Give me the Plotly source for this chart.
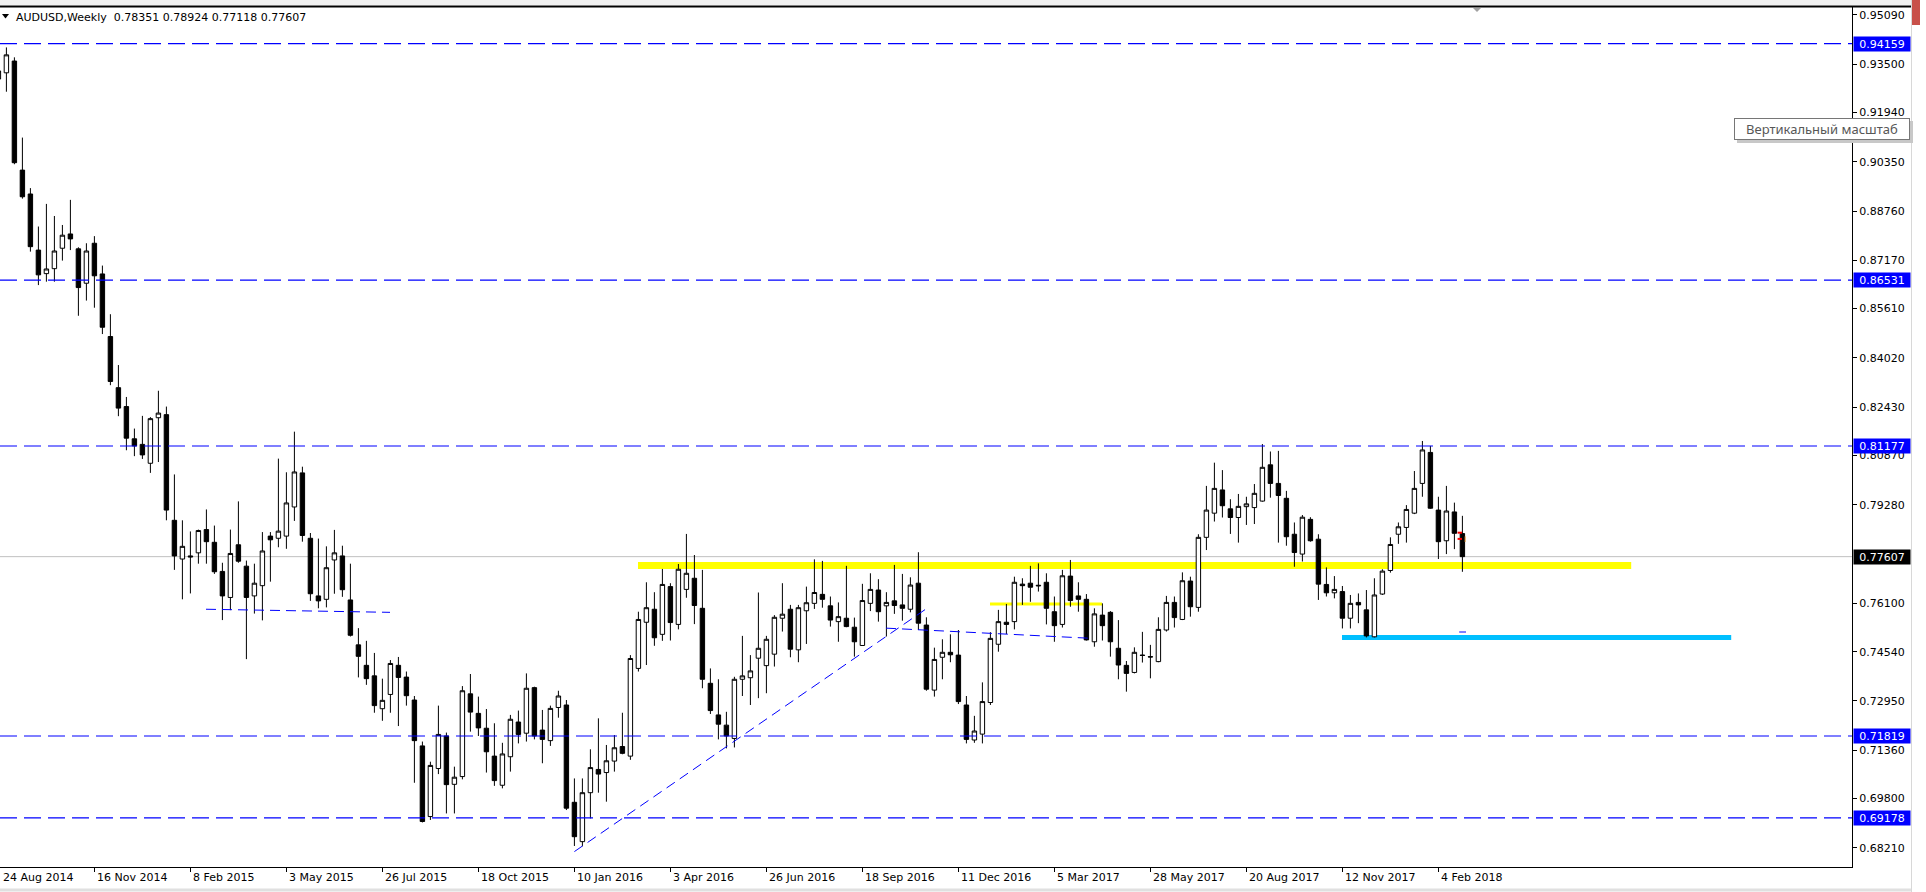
import plotly.graph_objects as go

# ---------------- data (AUDUSD weekly, bar 0 = week of 24 Aug 2014) ----------------
bar_index = list(range(184))

opens = [
    0.9302, 0.9322, 0.9360, 0.9008, 0.8931, 0.8750, 0.8674, 0.8690, 0.8756, 0.8802,
    0.8754, 0.8643, 0.8772, 0.8673, 0.8471, 0.8306, 0.8245, 0.8141, 0.8123, 0.8062,
    0.8209, 0.8219, 0.7878, 0.7753, 0.7763, 0.7773, 0.7848, 0.7807, 0.7713, 0.7629,
    0.7799, 0.7730, 0.7634, 0.7667, 0.7827, 0.7820, 0.7827, 0.7921, 0.8031, 0.7820,
    0.7634, 0.7623, 0.7750, 0.7763, 0.7621, 0.7476, 0.7410, 0.7376, 0.7270, 0.7316,
    0.7410, 0.7372, 0.7298, 0.7150, 0.6922, 0.7077, 0.7182, 0.7026, 0.7051, 0.7318,
    0.7255, 0.7207, 0.7117, 0.7023, 0.7115, 0.7227, 0.7191, 0.7338, 0.7201, 0.7167,
    0.7274, 0.7282, 0.6968, 0.6841, 0.6999, 0.7074, 0.7064, 0.7101, 0.7148, 0.7117,
    0.7400, 0.7549, 0.7591, 0.7510, 0.7664, 0.7542, 0.7655, 0.7691, 0.7594, 0.7352,
    0.7250, 0.7217, 0.7174, 0.7365, 0.7370, 0.7433, 0.7409, 0.7446, 0.7562, 0.7591,
    0.7460, 0.7586, 0.7610, 0.7639, 0.7602, 0.7551, 0.7562, 0.7533, 0.7474, 0.7610,
    0.7653, 0.7602, 0.7618, 0.7605, 0.7591, 0.7675, 0.7540, 0.7330, 0.7436, 0.7452,
    0.7443, 0.7282, 0.7169, 0.7188, 0.7290, 0.7478, 0.7549, 0.7551, 0.7672, 0.7675,
    0.7666, 0.7678, 0.7583, 0.7542, 0.7698, 0.7634, 0.7623, 0.7486, 0.7572, 0.7581,
    0.7465, 0.7410, 0.7387, 0.7443, 0.7438, 0.7422, 0.7524, 0.7613, 0.7558, 0.7682,
    0.7597, 0.7823, 0.7901, 0.7976, 0.7915, 0.7887, 0.7922, 0.7919, 0.7940, 0.8057,
    0.7997, 0.7949, 0.7833, 0.7769, 0.7881, 0.7817, 0.7671, 0.7644, 0.7648, 0.7562,
    0.7613, 0.7589, 0.7502, 0.7640, 0.7716, 0.7833, 0.7855, 0.7901, 0.7997, 0.8097,
    0.7911, 0.7812, 0.7905, 0.78351,
]
highs = [
    0.9338, 0.9404, 0.9372, 0.9113, 0.8950, 0.8826, 0.8899, 0.8860, 0.8831, 0.8912,
    0.8759, 0.8772, 0.8795, 0.8700, 0.8543, 0.8379, 0.8276, 0.8174, 0.8215, 0.8211,
    0.8296, 0.8245, 0.8026, 0.7878, 0.7842, 0.7848, 0.7913, 0.7861, 0.7741, 0.7848,
    0.7939, 0.7748, 0.7738, 0.7840, 0.7840, 0.8077, 0.8033, 0.8164, 0.8051, 0.7837,
    0.7819, 0.7794, 0.7847, 0.7796, 0.7738, 0.7530, 0.7489, 0.7450, 0.7367, 0.7427,
    0.7437, 0.7390, 0.7311, 0.7164, 0.7099, 0.7280, 0.7193, 0.7083, 0.7343, 0.7382,
    0.7309, 0.7269, 0.7223, 0.7160, 0.7250, 0.7264, 0.7384, 0.7341, 0.7266, 0.7280,
    0.7328, 0.7298, 0.7045, 0.7045, 0.7139, 0.7239, 0.7153, 0.7185, 0.7257, 0.7443,
    0.7583, 0.7678, 0.7646, 0.7721, 0.7675, 0.7737, 0.7834, 0.7766, 0.7718, 0.7400,
    0.7365, 0.7260, 0.7373, 0.7505, 0.7443, 0.7645, 0.7505, 0.7572, 0.7675, 0.7605,
    0.7605, 0.7664, 0.7752, 0.7747, 0.7632, 0.7613, 0.7731, 0.7564, 0.7673, 0.7707,
    0.7688, 0.7646, 0.7734, 0.7705, 0.7694, 0.7775, 0.7565, 0.7467, 0.7494, 0.7510,
    0.7524, 0.7311, 0.7247, 0.7355, 0.7517, 0.7589, 0.7608, 0.7696, 0.7691, 0.7731,
    0.7739, 0.7707, 0.7632, 0.7718, 0.7750, 0.7678, 0.7640, 0.7594, 0.7610, 0.7585,
    0.7556, 0.7424, 0.7468, 0.7518, 0.7476, 0.7565, 0.7634, 0.7632, 0.7710, 0.7696,
    0.7833, 0.7989, 0.8064, 0.8040, 0.7946, 0.7963, 0.7954, 0.7995, 0.8124, 0.8100,
    0.8102, 0.7973, 0.7871, 0.7895, 0.7888, 0.7833, 0.7726, 0.7698, 0.7666, 0.7637,
    0.7642, 0.7653, 0.7691, 0.7720, 0.7823, 0.7871, 0.7927, 0.8037, 0.8134, 0.8118,
    0.7954, 0.7989, 0.7935, 0.78924,
]
lows = [
    0.9290, 0.9261, 0.9027, 0.8916, 0.8745, 0.8637, 0.8648, 0.8648, 0.8716, 0.8750,
    0.8538, 0.8587, 0.8564, 0.8479, 0.8314, 0.8214, 0.8104, 0.8085, 0.8076, 0.8031,
    0.8066, 0.7878, 0.7718, 0.7623, 0.7642, 0.7738, 0.7738, 0.7705, 0.7556, 0.7588,
    0.7741, 0.7430, 0.7577, 0.7555, 0.7680, 0.7791, 0.7786, 0.7876, 0.7809, 0.7618,
    0.7594, 0.7597, 0.7641, 0.7631, 0.7503, 0.7371, 0.7347, 0.7257, 0.7231, 0.7257,
    0.7214, 0.7280, 0.7031, 0.6903, 0.6911, 0.7059, 0.6932, 0.6932, 0.7042, 0.7196,
    0.7182, 0.7064, 0.7021, 0.7013, 0.7067, 0.7158, 0.7164, 0.7171, 0.7094, 0.7150,
    0.7241, 0.6943, 0.6827, 0.6826, 0.6916, 0.6999, 0.6970, 0.7067, 0.7123, 0.7105,
    0.7390, 0.7411, 0.7473, 0.7489, 0.7490, 0.7526, 0.7628, 0.7543, 0.7336, 0.7253,
    0.7171, 0.7142, 0.7145, 0.7311, 0.7282, 0.7304, 0.7320, 0.7406, 0.7519, 0.7436,
    0.7420, 0.7479, 0.7592, 0.7596, 0.7535, 0.7486, 0.7533, 0.7438, 0.7474, 0.7585,
    0.7551, 0.7503, 0.7576, 0.7554, 0.7581, 0.7524, 0.7328, 0.7309, 0.7365, 0.7420,
    0.7285, 0.7158, 0.7160, 0.7158, 0.7282, 0.7454, 0.7511, 0.7526, 0.7605, 0.7615,
    0.7648, 0.7542, 0.7486, 0.7532, 0.7599, 0.7583, 0.7490, 0.7470, 0.7490, 0.7438,
    0.7365, 0.7325, 0.7384, 0.7419, 0.7368, 0.7420, 0.7519, 0.7532, 0.7556, 0.7567,
    0.7583, 0.7782, 0.7874, 0.7887, 0.7834, 0.7806, 0.7863, 0.7866, 0.7938, 0.7951,
    0.7806, 0.7796, 0.7728, 0.7745, 0.7809, 0.7621, 0.7632, 0.7626, 0.7529, 0.7529,
    0.7546, 0.7500, 0.7500, 0.7637, 0.7709, 0.7802, 0.7806, 0.7898, 0.7954, 0.7915,
    0.7753, 0.7769, 0.7785, 0.77118,
]
closes = [
    0.9328, 0.9380, 0.9032, 0.8922, 0.8761, 0.8670, 0.8689, 0.8747, 0.8798, 0.8786,
    0.8629, 0.8747, 0.8667, 0.8501, 0.8326, 0.8240, 0.8143, 0.8118, 0.8089, 0.8206,
    0.8224, 0.7911, 0.7763, 0.7794, 0.7760, 0.7845, 0.7809, 0.7712, 0.7634, 0.7771,
    0.7746, 0.7629, 0.7675, 0.7779, 0.7815, 0.7843, 0.7934, 0.8034, 0.7829, 0.7641,
    0.7618, 0.7725, 0.7773, 0.7654, 0.7507, 0.7439, 0.7367, 0.7280, 0.7297, 0.7416,
    0.7371, 0.7312, 0.7167, 0.6906, 0.7087, 0.7187, 0.7025, 0.7049, 0.7328, 0.7259,
    0.7208, 0.7131, 0.7038, 0.7124, 0.7236, 0.7187, 0.7336, 0.7182, 0.7171, 0.7271,
    0.7311, 0.6949, 0.6857, 0.6999, 0.7080, 0.7059, 0.7102, 0.7144, 0.7126, 0.7432,
    0.7558, 0.7596, 0.7499, 0.7671, 0.7548, 0.7720, 0.7707, 0.7603, 0.7365, 0.7264,
    0.7220, 0.7182, 0.7365, 0.7376, 0.7392, 0.7465, 0.7494, 0.7565, 0.7575, 0.7462,
    0.7596, 0.7612, 0.7645, 0.7623, 0.7556, 0.7567, 0.7535, 0.7486, 0.7619, 0.7655,
    0.7583, 0.7613, 0.7603, 0.7594, 0.7669, 0.7546, 0.7333, 0.7429, 0.7452, 0.7444,
    0.7293, 0.7171, 0.7198, 0.7293, 0.7497, 0.7551, 0.7542, 0.7678, 0.7667, 0.7662,
    0.7668, 0.7594, 0.7538, 0.7699, 0.7619, 0.7623, 0.7492, 0.7576, 0.7538, 0.7486,
    0.7411, 0.7384, 0.7452, 0.7442, 0.7437, 0.7526, 0.7613, 0.7564, 0.7683, 0.7599,
    0.7823, 0.7911, 0.7981, 0.7925, 0.7887, 0.7923, 0.7931, 0.7965, 0.8049, 0.7997,
    0.7958, 0.7825, 0.7774, 0.7888, 0.7812, 0.7672, 0.7644, 0.7655, 0.7562, 0.7610,
    0.7605, 0.7505, 0.7637, 0.7714, 0.7800, 0.7857, 0.7913, 0.7981, 0.8105, 0.7917,
    0.7809, 0.7908, 0.7836, 0.77607,
]

date_tick_bars = [0, 12, 24, 36, 48, 60, 72, 84, 96, 108, 120, 132, 144, 156, 168, 180]
date_tick_labels = ["24 Aug 2014", "16 Nov 2014", "8 Feb 2015", "3 May 2015", "26 Jul 2015",
                    "18 Oct 2015", "10 Jan 2016", "3 Apr 2016", "26 Jun 2016", "18 Sep 2016",
                    "11 Dec 2016", "5 Mar 2017", "28 May 2017", "20 Aug 2017", "12 Nov 2017",
                    "4 Feb 2018"]

price_ticks = [0.95090, 0.93500, 0.91940, 0.90350, 0.88760, 0.87170, 0.85610, 0.84020,
               0.82430, 0.80870, 0.79280, 0.76100, 0.74540, 0.72950, 0.71360, 0.69800, 0.68210]
price_tick_labels = ["0.95090", "0.93500", "0.91940", "0.90350", "0.88760", "0.87170", "0.85610",
                     "0.84020", "0.82430", "0.80870", "0.79280", "0.76100", "0.74540", "0.72950",
                     "0.71360", "0.69800", "0.68210"]

level_prices = [0.94159, 0.86531, 0.81177, 0.71819, 0.69178]
level_labels = ["0.94159", "0.86531", "0.81177", "0.71819", "0.69178"]
bid_price = 0.77607
bid_label = "0.77607"

# drawn objects (bar index / price)
yellow_band = dict(b0=79.95, b1=204.1, price=0.7732)
yellow_short = dict(b0=123.95, b1=137.95, price=0.7608)
cyan_band = dict(b0=167.95, b1=216.6, price=0.7500)
trend_line = dict(b0=72.0, p0=0.6809, b1=115.9, p1=0.7591)
dash_seg_a = dict(b0=25.95, p0=0.7591, b1=48.95, p1=0.7581)
dash_seg_b = dict(b0=110.95, p0=0.7530, b1=136.7, p1=0.7497)

title_text = "AUDUSD,Weekly  0.78351 0.78924 0.77118 0.77607"
tooltip_text = "Вертикальный масштаб"

# ---------------- layout geometry ----------------
W, H = 1926, 892
PLOT_W = 1852
PLOT_TOP, PLOT_BOTTOM = 7, 867
X_RANGE = [0.2, 231.7]
Y_RANGE = [0.67592, 0.95344]


def pxx(x):
    return x / PLOT_W


def pxy(y):
    return (PLOT_BOTTOM - y) / (PLOT_BOTTOM - PLOT_TOP)


FONT = "DejaVu Sans"
BLUE = "#0000FF"

fig = go.Figure()
fig.add_trace(go.Candlestick(
    x=bar_index, open=opens, high=highs, low=lows, close=closes,
    increasing=dict(line=dict(color="black", width=1), fillcolor="white"),
    decreasing=dict(line=dict(color="black", width=1), fillcolor="black"),
    whiskerwidth=0, showlegend=False, hoverinfo="skip",
))

shapes = []
# bid line
shapes.append(dict(type="line", xref="paper", yref="y", x0=0, x1=1, y0=bid_price, y1=bid_price,
                   line=dict(color="#C0C0C0", width=1), layer="below"))
# yellow / cyan bands
shapes.append(dict(type="line", xref="x", yref="y", x0=yellow_band["b0"], x1=yellow_band["b1"],
                   y0=yellow_band["price"], y1=yellow_band["price"],
                   line=dict(color="#FFFF00", width=7), layer="below"))
shapes.append(dict(type="line", xref="x", yref="y", x0=yellow_short["b0"], x1=yellow_short["b1"],
                   y0=yellow_short["price"], y1=yellow_short["price"],
                   line=dict(color="#FFFF00", width=3), layer="below"))
shapes.append(dict(type="line", xref="x", yref="y", x0=cyan_band["b0"], x1=cyan_band["b1"],
                   y0=cyan_band["price"], y1=cyan_band["price"],
                   line=dict(color="#00BFFF", width=5), layer="below"))
# horizontal levels
for lv in level_prices:
    shapes.append(dict(type="line", xref="paper", yref="y", x0=0, x1=1, y0=lv, y1=lv,
                       line=dict(color=BLUE, width=1.2, dash="17px,7px"), layer="above"))
# trend line and short dashed segments
for seg in (trend_line, dash_seg_a, dash_seg_b):
    shapes.append(dict(type="line", xref="x", yref="y", x0=seg["b0"], x1=seg["b1"],
                       y0=seg["p0"], y1=seg["p1"],
                       line=dict(color=BLUE, width=1, dash="10px,6px"), layer="above"))
# tiny marks near last bar
shapes.append(dict(type="line", xref="x", yref="y", x0=182.6, x1=183.45, y0=0.75175, y1=0.75175,
                   line=dict(color=BLUE, width=1)))
shapes.append(dict(type="line", xref="x", yref="y", x0=182.4, x1=182.95, y0=0.7838, y1=0.7838,
                   line=dict(color="#FF0000", width=2)))
shapes.append(dict(type="line", xref="x", yref="y", x0=182.4, x1=182.95, y0=0.7818, y1=0.7818,
                   line=dict(color="#FF0000", width=2)))
shapes.append(dict(type="line", xref="x", yref="y", x0=183.35, x1=183.35, y0=0.7808, y1=0.7826,
                   line=dict(color="#E8A040", width=1)))

# window chrome
shapes.append(dict(type="rect", xref="paper", yref="paper", x0=0, x1=pxx(1911), y0=pxy(5), y1=pxy(0),
                   fillcolor="#F0F0F0", line=dict(width=0)))
shapes.append(dict(type="line", xref="paper", yref="paper", x0=0, x1=pxx(1911), y0=pxy(6.5), y1=pxy(6.5),
                   line=dict(color="black", width=2)))
shapes.append(dict(type="line", xref="paper", yref="paper", x0=pxx(1911.5), x1=pxx(1911.5),
                   y0=pxy(892), y1=pxy(0), line=dict(color="#D8D8D8", width=1)))
shapes.append(dict(type="line", xref="paper", yref="paper", x0=0, x1=pxx(1911), y0=pxy(890), y1=pxy(890),
                   line=dict(color="#E0E0E0", width=3)))
shapes.append(dict(type="rect", xref="paper", yref="paper", x0=pxx(1912), x1=pxx(1920), y0=pxy(25), y1=pxy(0),
                   fillcolor="#C8504A", line=dict(width=0)))
# title triangle
shapes.append(dict(type="path", xref="paper", yref="paper",
                   path=f"M {pxx(2)} {pxy(14)} L {pxx(9)} {pxy(14)} L {pxx(5.5)} {pxy(18.5)} Z",
                   fillcolor="black", line=dict(width=0)))
# chart-shift marker at top
shapes.append(dict(type="path", xref="paper", yref="paper",
                   path=f"M {pxx(1473)} {pxy(8)} L {pxx(1481)} {pxy(8)} L {pxx(1477)} {pxy(12)} Z",
                   fillcolor="#A0A0A0", line=dict(width=0)))
# tooltip shadow
shapes.append(dict(type="rect", xref="paper", yref="paper", x0=pxx(1737), x1=pxx(1913),
                   y0=pxy(143), y1=pxy(121), fillcolor="#C8C8C8", line=dict(width=0)))

annotations = []
annotations.append(dict(xref="paper", x=0, xanchor="left", xshift=14, yref="paper", y=1,
                        yanchor="middle", yshift=-10, text=title_text, showarrow=False,
                        font=dict(family=FONT, size=11, color="black")))
for b, lab in zip(date_tick_bars, date_tick_labels):
    annotations.append(dict(xref="x", x=max(b, X_RANGE[0]), xanchor="left", xshift=1,
                            yref="paper", y=0, yanchor="top", yshift=-2, text=lab,
                            showarrow=False, font=dict(family=FONT, size=11, color="black")))
for lv, lab in zip(level_prices, level_labels):
    annotations.append(dict(xref="paper", x=1, xanchor="left", xshift=1, yref="y", y=lv,
                            yanchor="middle", text=lab, showarrow=False, bgcolor=BLUE,
                            font=dict(family=FONT, size=11, color="white"),
                            width=54, height=12, borderpad=1, align="center"))
annotations.append(dict(xref="paper", x=1, xanchor="left", xshift=1, yref="y", y=bid_price,
                        yanchor="middle", text=bid_label, showarrow=False, bgcolor="black",
                        font=dict(family=FONT, size=11, color="white"),
                        width=54, height=12, borderpad=1, align="center"))
annotations.append(dict(xref="paper", x=pxx(1734), xanchor="left", yref="paper", y=pxy(129),
                        yanchor="middle", text=tooltip_text, showarrow=False, bgcolor="white",
                        bordercolor="#767676", borderwidth=1, borderpad=2, width=170, height=16,
                        align="center", font=dict(family="Noto Sans", size=13, color="#575757")))

fig.update_layout(
    width=W, height=H,
    margin=dict(l=0, r=W - PLOT_W, t=PLOT_TOP, b=H - PLOT_BOTTOM, pad=0),
    paper_bgcolor="white", plot_bgcolor="white",
    font=dict(family=FONT, size=11, color="black"),
    boxgap=0.45, boxgroupgap=0,
    showlegend=False, hovermode=False,
    shapes=shapes, annotations=annotations,
    xaxis=dict(range=X_RANGE, showgrid=False, zeroline=False, showline=True, linecolor="black",
               linewidth=1, ticks="outside", ticklen=4, tickcolor="black", tickvals=date_tick_bars,
               showticklabels=False, rangeslider=dict(visible=False), fixedrange=True),
    yaxis=dict(range=Y_RANGE, side="right", showgrid=False, zeroline=False, showline=True,
               linecolor="black", linewidth=1, ticks="outside", ticklen=4, tickcolor="black",
               tickvals=price_ticks, ticktext=price_tick_labels,
               tickfont=dict(family=FONT, size=11, color="black"), fixedrange=True),
)

fig.write_html("out.html", config={"displayModeBar": False})
